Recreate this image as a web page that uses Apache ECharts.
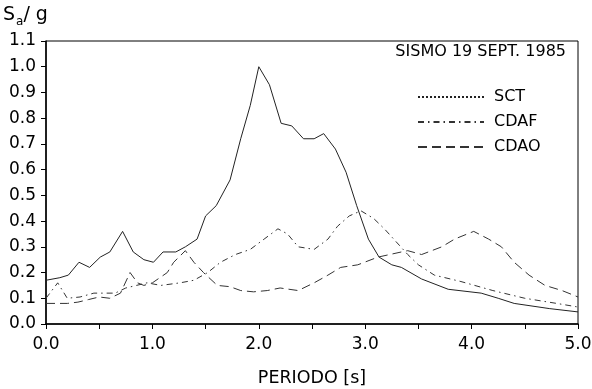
<!DOCTYPE html>
<html>
<head>
<meta charset="utf-8">
<script src="https://cdn.jsdelivr.net/npm/echarts@6/dist/echarts.min.js"></script>
<style>
  html, body { margin: 0; padding: 0; background: #fff; }
  #chart { width: 592px; height: 389px; }
</style>
</head>
<body>
<div id="chart"></div>
<script>
// periodo (s) y Sa/g
const sctT = [0.0, 0.13, 0.21, 0.31, 0.41, 0.51, 0.6, 0.72, 0.82, 0.92, 1.01, 1.1, 1.22, 1.31, 1.42, 1.5, 1.6, 1.73, 1.83, 1.92, 2.0, 2.1, 2.21, 2.31, 2.42, 2.52, 2.61, 2.72, 2.82, 2.92, 3.03, 3.13, 3.25, 3.34, 3.53, 3.78, 4.09, 4.25, 4.4, 4.73, 5.0]
const sctSa = [0.17, 0.18, 0.19, 0.24, 0.22, 0.26, 0.28, 0.36, 0.28, 0.25, 0.24, 0.28, 0.28, 0.30, 0.33, 0.42, 0.46, 0.56, 0.72, 0.85, 1.0, 0.93, 0.78, 0.77, 0.72, 0.72, 0.74, 0.68, 0.59, 0.46, 0.33, 0.26, 0.23, 0.22, 0.175, 0.135, 0.12, 0.10, 0.08, 0.06, 0.047]

const cdafT = [0.0, 0.11, 0.2, 0.32, 0.45, 0.55, 0.65, 0.75, 0.85, 0.95, 1.08, 1.26, 1.39, 1.52, 1.64, 1.78, 1.92, 2.05, 2.18, 2.27, 2.37, 2.52, 2.65, 2.74, 2.85, 2.96, 3.08, 3.18, 3.29, 3.4, 3.5, 3.65, 3.9, 4.2, 4.5, 4.8, 5.0]
const cdafSa = [0.10, 0.16, 0.10, 0.105, 0.12, 0.12, 0.12, 0.14, 0.15, 0.16, 0.15, 0.16, 0.17, 0.20, 0.24, 0.27, 0.29, 0.33, 0.37, 0.35, 0.30, 0.29, 0.33, 0.38, 0.42, 0.44, 0.41, 0.37, 0.32, 0.27, 0.23, 0.19, 0.165, 0.13, 0.10, 0.08, 0.066]

const cdaoT = [0.0, 0.1, 0.2, 0.3, 0.4, 0.5, 0.6, 0.7, 0.79, 0.86, 0.92, 1.0, 1.07, 1.14, 1.2, 1.31, 1.39, 1.48, 1.61, 1.73, 1.83, 1.95, 2.08, 2.2, 2.37, 2.52, 2.65, 2.77, 2.93, 3.12, 3.34, 3.4, 3.53, 3.72, 3.84, 4.02, 4.16, 4.28, 4.4, 4.54, 4.69, 4.85, 5.0]
const cdaoSa = [0.08, 0.08, 0.08, 0.085, 0.095, 0.105, 0.10, 0.12, 0.20, 0.16, 0.15, 0.16, 0.18, 0.20, 0.24, 0.285, 0.24, 0.20, 0.15, 0.145, 0.13, 0.125, 0.13, 0.14, 0.13, 0.16, 0.19, 0.22, 0.23, 0.26, 0.28, 0.285, 0.27, 0.30, 0.33, 0.36, 0.33, 0.30, 0.24, 0.19, 0.15, 0.13, 0.105]

const pairs = (t, v) => t.map((x, i) => [x, v[i]])
const font = 'DejaVu Sans, sans-serif'

const chart = echarts.init(document.getElementById('chart'))
chart.setOption({
  animation: false,
  textStyle: { fontFamily: font },
  title: [
    {
      text: '{s|S}{sub|a}{s|/ g}',
      left: 3, top: 3, padding: 0,
      textStyle: {
        fontWeight: 'normal',
        rich: {
          s: { fontSize: 19, fontWeight: 'normal', color: '#000', fontFamily: font, lineHeight: 22, verticalAlign: 'bottom' },
          sub: { fontSize: 12, fontWeight: 'normal', color: '#000', fontFamily: font, lineHeight: 14, verticalAlign: 'bottom', padding: [0, 0, -3, 1] }
        }
      }
    },
    {
      text: 'SISMO 19 SEPT. 1985',
      right: 26, top: 44, padding: 0,
      textStyle: { fontSize: 16, fontWeight: 'normal', color: '#000', fontFamily: font }
    }
  ],
  legend: {
    orient: 'vertical',
    left: 412, top: 84,
    itemWidth: 66, itemHeight: 18, itemGap: 9,
    itemStyle: { opacity: 0 },
    textStyle: { fontSize: 16, color: '#000', fontFamily: font, padding: [0, 0, 0, 5] },
    data: [
      { name: 'SCT', lineStyle: { type: 'dotted' } },
      { name: 'CDAF' },
      { name: 'CDAO' }
    ]
  },
  grid: {
    left: 46, right: 14, top: 41, bottom: 65,
    outerBoundsMode: 'none', containLabel: false,
    show: true, borderColor: '#000', borderWidth: 1
  },
  xAxis: {
    type: 'value', min: 0, max: 5, interval: 0.5,
    name: 'PERIODO [s]', nameLocation: 'middle', nameGap: 45,
    nameTextStyle: { fontSize: 17.5, color: '#000', fontFamily: font },
    axisLine: { lineStyle: { color: '#000', width: 1.5 } },
    axisTick: { inside: false, length: 5, lineStyle: { color: '#000' } },
    axisLabel: {
      fontSize: 17, color: '#000', margin: 12, fontFamily: font,
      formatter: v => (Number.isInteger(v) ? v.toFixed(1) : '')
    },
    splitLine: { show: false }
  },
  yAxis: {
    type: 'value', min: 0, max: 1.1, interval: 0.1,
    axisLine: { show: true, lineStyle: { color: '#000', width: 1.5 } },
    axisTick: { show: true, length: 5, lineStyle: { color: '#000' } },
    axisLabel: { fontSize: 17, color: '#000', margin: 10, fontFamily: font, formatter: v => v.toFixed(1) },
    splitLine: { show: false }
  },
  series: [
    {
      name: 'SCT', type: 'line', symbol: 'none', data: pairs(sctT, sctSa),
      itemStyle: { color: '#222' },
      lineStyle: { color: '#222', width: 1, type: 'solid' }
    },
    {
      name: 'CDAF', type: 'line', symbol: 'none', data: pairs(cdafT, cdafSa),
      itemStyle: { color: '#333' },
      lineStyle: { color: '#333', width: 1, type: [6, 4, 1.5, 4] }
    },
    {
      name: 'CDAO', type: 'line', symbol: 'none', data: pairs(cdaoT, cdaoSa),
      itemStyle: { color: '#333' },
      lineStyle: { color: '#333', width: 1, type: [9, 5] }
    }
  ]
})
</script>
</body>
</html>
